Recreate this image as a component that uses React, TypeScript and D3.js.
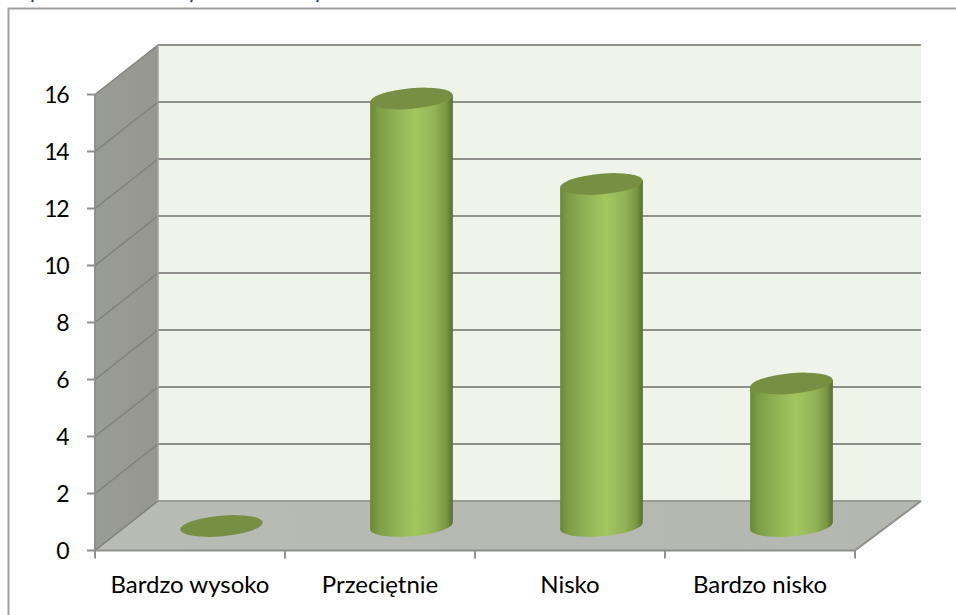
import React from 'react';
import * as d3 from 'd3';

const categories = ['Bardzo wysoko', 'Przeciętnie', 'Nisko', 'Bardzo nisko'];
const values = [0, 15, 12, 5];
const yTicks = [0, 2, 4, 6, 8, 10, 12, 14, 16];

const width = 956;
const height = 615;
const depthX = 63;
const depthY = -49.5;

// front edge of the 3D box
const x = d3.scaleBand<string>().domain(categories).range([95, 855]);
const y = d3.scaleLinear().domain([0, 16]).range([550.5, 94.5]);
// bars stand in the middle of the floor
const yBar = d3.scaleLinear().domain([0, 16]).range([526, 70]);

const rx = 41.5;
const ry = 10.3;
const rot = -5;
const phi = (rot * Math.PI) / 180;
const t = Math.atan2(-ry * Math.sin(phi), rx * Math.cos(phi));
const edgeX = rx * Math.cos(t) * Math.cos(phi) - ry * Math.sin(t) * Math.sin(phi);
const edgeY = rx * Math.cos(t) * Math.sin(phi) + ry * Math.sin(t) * Math.cos(phi);

const gridColor = '#8f908c';
const font = 'Lato, sans-serif';

export default function App() {
  const x0 = x.range()[0];
  const x1 = x.range()[1];
  const bottom = y(0);
  const top = y(16);
  const band = x.bandwidth();
  const edges = categories.map((c) => x(c) as number).concat(x1);

  return (
    <svg
      width={width}
      height={height}
      viewBox={`0 0 ${width} ${height}`}
      style={{ position: 'absolute', left: 0, top: 0, background: '#fff' }}
    >
      <defs>
        <linearGradient id="cyl" x1="0" x2="1" y1="0" y2="0">
          <stop offset="0" stopColor="#6a883a" />
          <stop offset="0.1" stopColor="#7d9d47" />
          <stop offset="0.3" stopColor="#90b153" />
          <stop offset="0.55" stopColor="#a3c660" />
          <stop offset="0.78" stopColor="#93b355" />
          <stop offset="0.92" stopColor="#7a9743" />
          <stop offset="1" stopColor="#586f30" />
        </linearGradient>
        <linearGradient id="side" x1="0" x2="1" y1="0" y2="0">
          <stop offset="0" stopColor="#9a9c96" />
          <stop offset="1" stopColor="#95978f" />
        </linearGradient>
        <linearGradient id="floor" x1="0" x2="1" y1="0" y2="0">
          <stop offset="0" stopColor="#b9bbb5" />
          <stop offset="1" stopColor="#b4b6b0" />
        </linearGradient>
      </defs>

      {/* bits of the caption cut off by the crop */}
      {[33, 192, 318].map((px) => (
        <line key={px} x1={px} y1={0} x2={px - 1} y2={2} stroke="#1f3f77" strokeWidth={2} />
      ))}

      <path
        d={`M${width},8.5H8.5V${height}`}
        fill="none"
        stroke="#a0a0a0"
        strokeWidth={2}
      />

      {/* walls */}
      <rect
        x={x0 + depthX}
        y={top + depthY}
        width={x1 - x0 + 3}
        height={bottom - top}
        fill="#eef4ea"
      />
      <polygon
        points={`${x0},${top} ${x0 + depthX},${top + depthY} ${x0 + depthX},${bottom + depthY} ${x0},${bottom}`}
        fill="url(#side)"
      />
      <polygon
        points={`${x0},${bottom} ${x0 + depthX},${bottom + depthY} ${x1 + depthX + 3},${bottom + depthY} ${x1},${bottom}`}
        fill="url(#floor)"
      />

      {/* gridlines */}
      {yTicks.map((v) => (
        <g key={v} fill="none">
          <line
            x1={x0}
            y1={y(v)}
            x2={x0 + depthX}
            y2={y(v) + depthY}
            stroke="#80817d"
            strokeWidth={1.5}
          />
          <line
            x1={x0 + depthX}
            y1={y(v) + depthY}
            x2={x1 + depthX + 3}
            y2={y(v) + depthY}
            stroke={v === 0 ? '#9a9c96' : gridColor}
            strokeWidth={2.2}
          />
        </g>
      ))}
      <line x1={x0 + depthX} y1={top + depthY} x2={x0 + depthX} y2={bottom + depthY} stroke="#a3a59f" strokeWidth={1.5} />
      <line x1={x1} y1={bottom} x2={x1 + depthX + 3} y2={bottom + depthY} stroke={gridColor} strokeWidth={2} />

      {/* axes */}
      <line x1={x0} y1={top} x2={x0} y2={bottom} stroke={gridColor} strokeWidth={2} />
      <line x1={x0} y1={bottom} x2={x1} y2={bottom} stroke={gridColor} strokeWidth={2} />
      {yTicks.map((v) => (
        <g key={v}>
          <line x1={x0 - 8} y1={y(v)} x2={x0} y2={y(v)} stroke={gridColor} strokeWidth={2} />
          <text x={68} y={y(v)} dy="0.36em" textAnchor="end" fontFamily={font} fontSize={23} letterSpacing={-1.5} fill="#000">
            {v}
          </text>
        </g>
      ))}
      {edges.map((e) => (
        <line key={e} x1={e} y1={bottom} x2={e} y2={bottom + 8} stroke={gridColor} strokeWidth={2} />
      ))}
      {categories.map((c) => (
        <text
          key={c}
          x={(x(c) as number) + band / 2}
          y={593}
          textAnchor="middle"
          fontFamily={font}
          fontSize={24}
          fill="#000"
        >
          {c}
        </text>
      ))}

      {/* cylinders */}
      {categories.map((c, i) => {
        const cx = (x(c) as number) + band / 2 + depthX / 2;
        const by = yBar(0);
        const ty = yBar(values[i]);
        return (
          <g key={c}>
            {values[i] > 0 && (
              <path
                d={`M${cx - edgeX},${ty - edgeY}L${cx - edgeX},${by - edgeY}A${rx},${ry} ${rot} 0 0 ${cx + edgeX},${by + edgeY}L${cx + edgeX},${ty + edgeY}Z`}
                fill="url(#cyl)"
              />
            )}
            <ellipse
              cx={cx}
              cy={ty}
              rx={rx}
              ry={ry}
              transform={`rotate(${rot} ${cx} ${ty})`}
              fill="#778f42"
            />
          </g>
        );
      })}
    </svg>
  );
}
